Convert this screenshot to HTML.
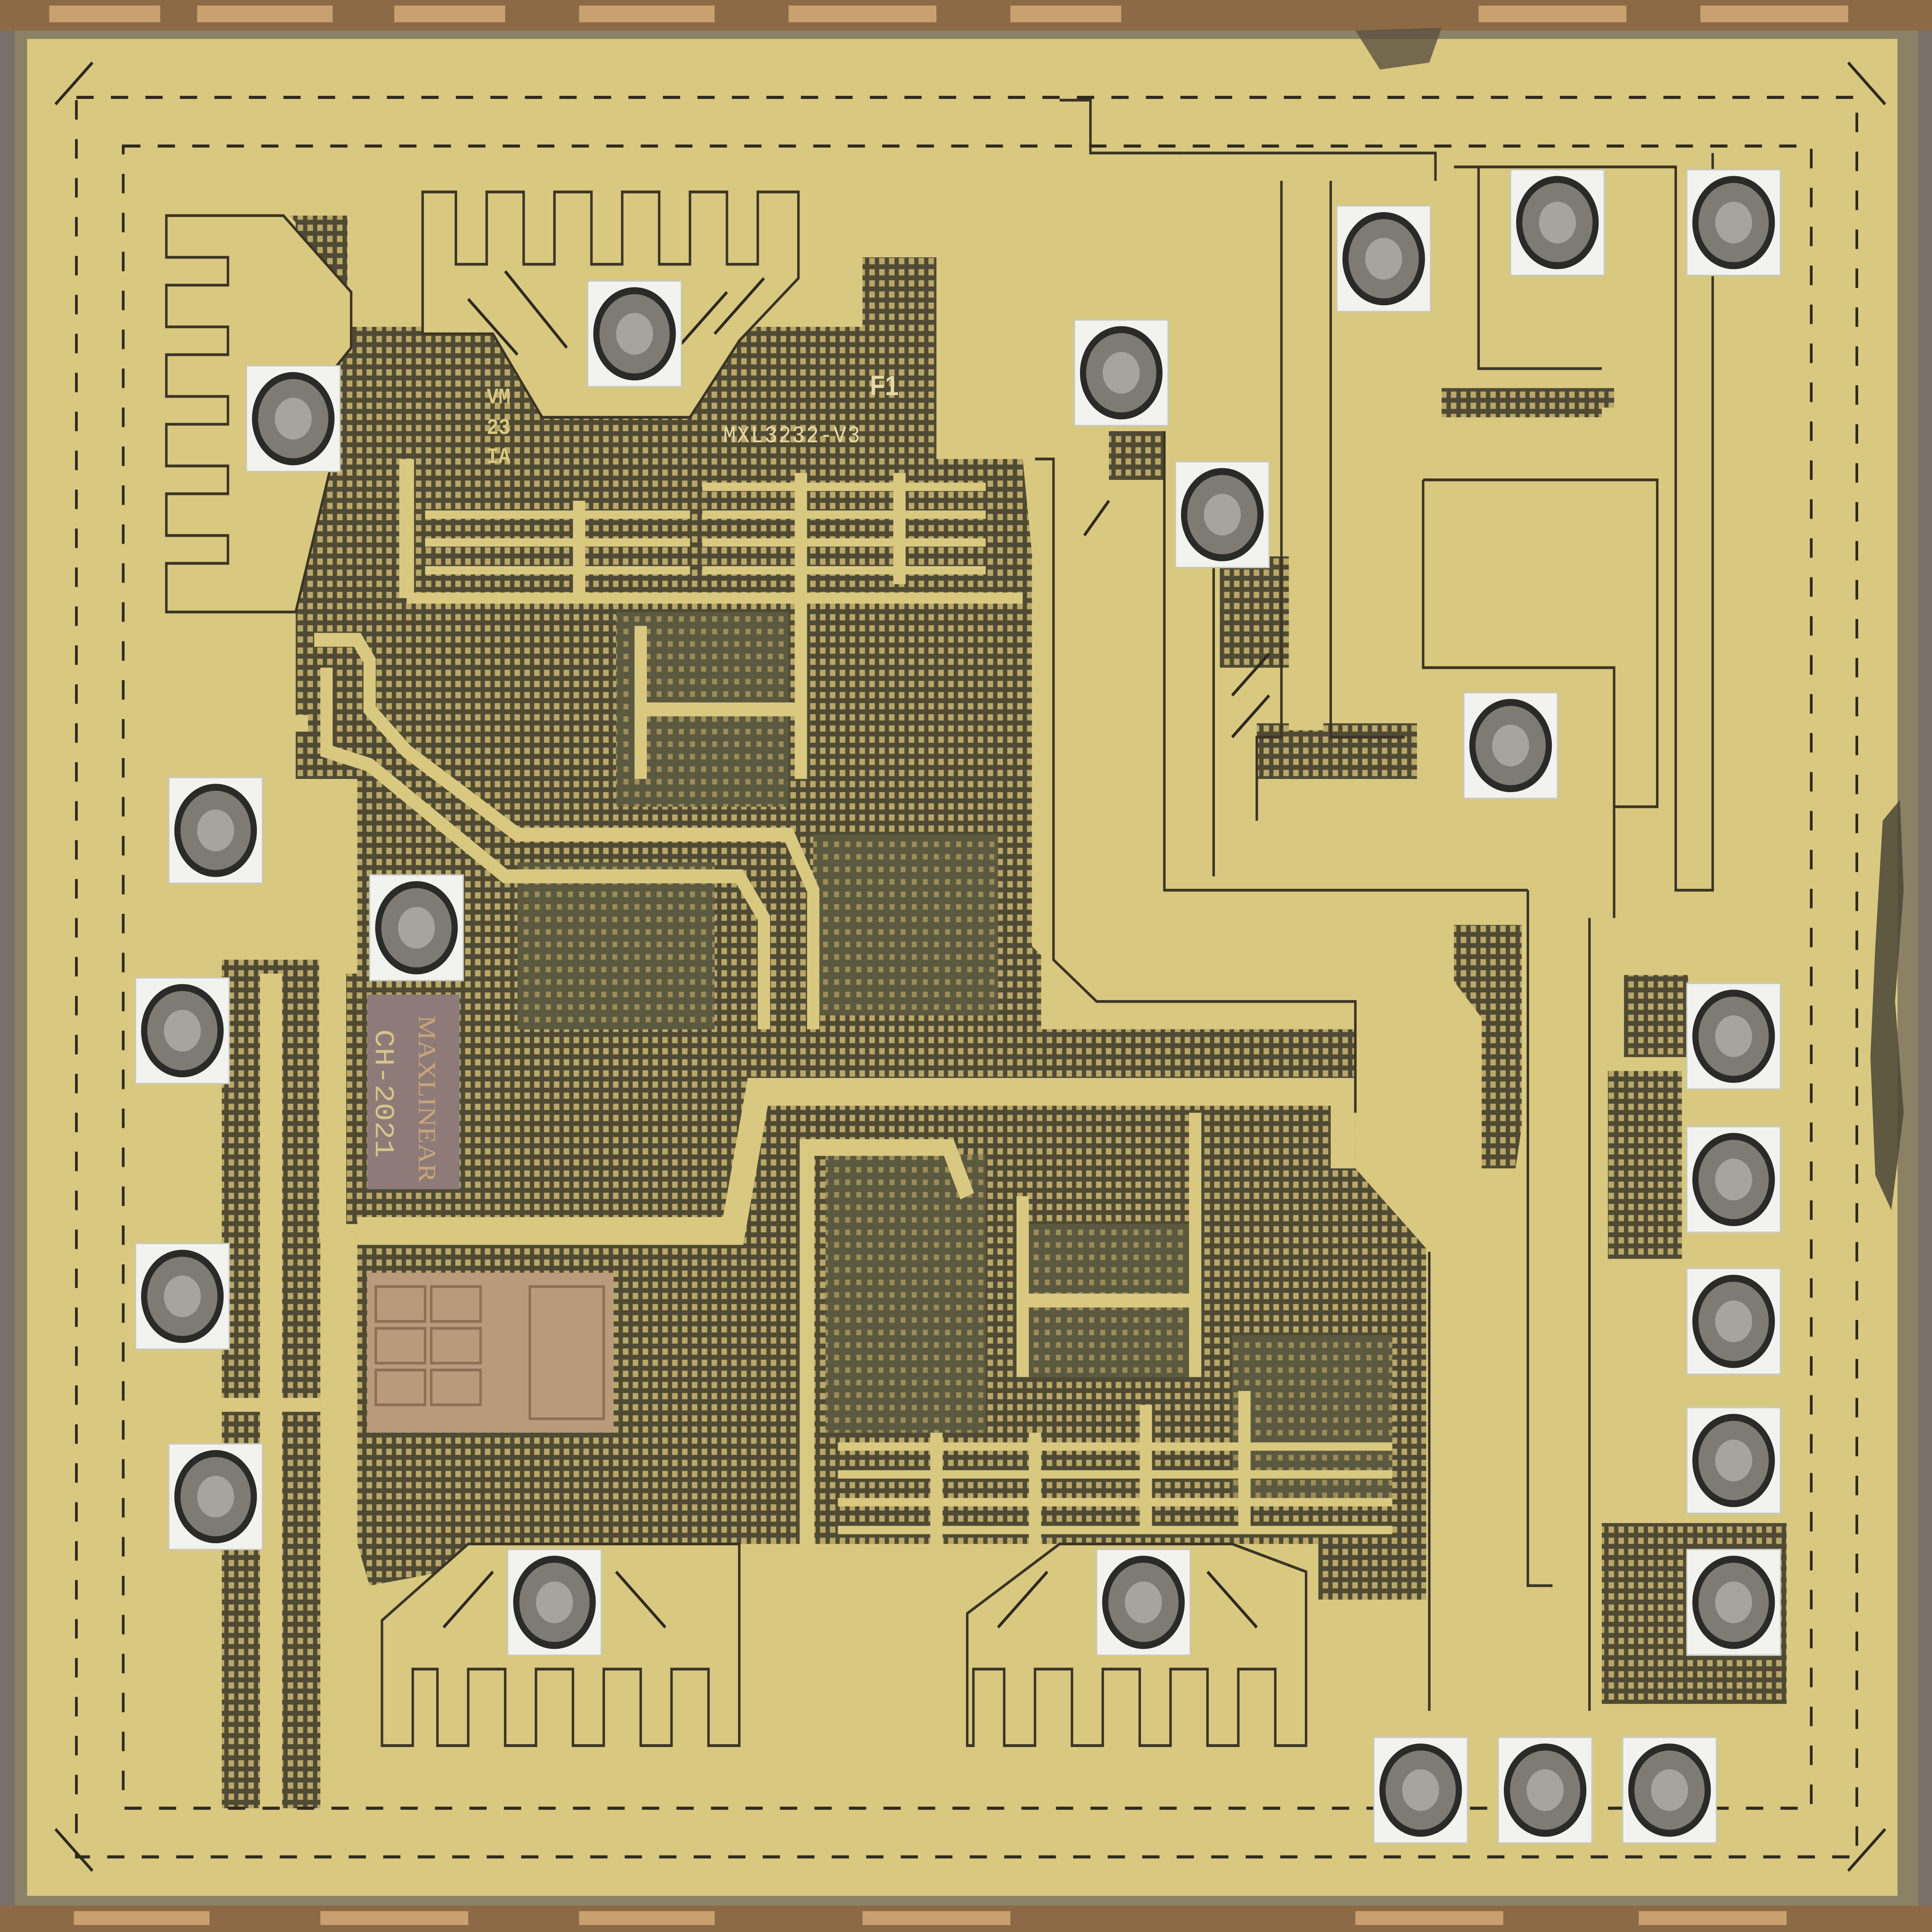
<!DOCTYPE html>
<html><head><meta charset="utf-8"><style>
html,body{margin:0;padding:0;background:#6e6660;width:100%;height:100%;overflow:hidden;}
svg{display:block;width:100vw;height:100vh;position:absolute;left:0;top:0}
</style></head><body>
<svg viewBox="0 0 1568 1389" preserveAspectRatio="none" xmlns="http://www.w3.org/2000/svg">
<defs>
<pattern id="grid" width="8" height="8" patternUnits="userSpaceOnUse">
<rect width="8" height="8" fill="#4e4a33"/>
<rect x="1.5" y="1.5" width="4.5" height="4.5" fill="#b9a768"/>
</pattern>
<pattern id="grid2" width="9" height="9" patternUnits="userSpaceOnUse">
<rect width="9" height="9" fill="#5b5a40"/>
<rect x="2" y="2" width="4" height="4" fill="#9c8c55"/>
</pattern>
</defs>
<rect width="1568" height="1389" fill="#7a706a"/>
<rect x="0" y="0" width="1568" height="22" fill="#8c6a45"/>
<rect x="0" y="1370" width="1568" height="19" fill="#8c6a45"/>
<g fill="#c9a070">
<rect x="40" y="4" width="90" height="12"/><rect x="160" y="4" width="110" height="12"/><rect x="320" y="4" width="90" height="12"/><rect x="470" y="4" width="110" height="12"/><rect x="640" y="4" width="120" height="12"/><rect x="820" y="4" width="90" height="12"/><rect x="1200" y="4" width="120" height="12"/><rect x="1380" y="4" width="120" height="12"/>
<rect x="60" y="1374" width="110" height="10"/><rect x="260" y="1374" width="120" height="10"/><rect x="470" y="1374" width="110" height="10"/><rect x="700" y="1374" width="120" height="10"/><rect x="1100" y="1374" width="120" height="10"/><rect x="1330" y="1374" width="120" height="10"/>
</g>
<rect x="12" y="22" width="1545" height="1348" fill="#8b8166"/>
<rect x="22" y="28" width="1518" height="1335" fill="#d9c880"/>
<g fill="url(#grid)">
<polygon points="235,155 282,155 282,235 700,235 700,185 760,185 760,330 830,330 840,420 880,470 880,545 845,560 845,740 1100,740 1100,840 1160,900 1160,1150 1070,1150 1070,1110 600,1110 480,1110 300,1140 290,1110 290,880 260,880 260,700 290,700 290,560 240,560 240,440 240,160"/>
<rect x="180" y="690" width="80" height="610"/>
<polygon points="1180,660 1240,640 1240,780 1230,840 1180,840"/>
<rect x="1305" y="770" width="60" height="135"/>
<rect x="1300" y="1095" width="150" height="130"/>
<rect x="1318" y="700" width="52" height="60"/>
<polygon points="1020,520 1150,520 1150,560 1020,560"/>
<polygon points="1170,270 1310,270 1310,300 1170,300"/>
<polygon points="900,310 950,310 950,345 900,345"/>
<polygon points="990,400 1060,400 1060,480 990,480"/>
</g>
<g fill="url(#grid2)">
<rect x="500" y="440" width="140" height="140"/>
<rect x="420" y="620" width="160" height="120"/>
<rect x="660" y="600" width="150" height="130"/>
<rect x="830" y="880" width="140" height="110"/>
<rect x="670" y="830" width="130" height="200"/>
<rect x="1000" y="960" width="130" height="120"/>
</g>
<rect x="298" y="915" width="200" height="115" fill="#b99a7a"/>
<g stroke="#8f6f55" stroke-width="2" fill="none">
<rect x="305" y="925" width="40" height="25"/><rect x="350" y="925" width="40" height="25"/><rect x="305" y="955" width="40" height="25"/><rect x="350" y="955" width="40" height="25"/><rect x="305" y="985" width="40" height="25"/><rect x="350" y="985" width="40" height="25"/><rect x="430" y="925" width="60" height="95"/>
</g>
<rect x="298" y="715" width="75" height="140" fill="#8e7b78"/>
<text x="340" y="730" font-family="Liberation Serif,serif" font-size="20" fill="#c7a47c" transform="rotate(90 340 730)">MAXLINEAR</text>
<text x="305" y="740" font-family="Liberation Mono,monospace" font-size="22" fill="#d8c48a" transform="rotate(90 305 740)">CH-2021</text>
<g fill="none" stroke="#d9c880" stroke-linejoin="miter">
<path d="M290,885 H595 L615,785 H1090 V840" stroke-width="20"/>
<path d="M655,1120 V825 H770 L785,860" stroke-width="12"/>
<path d="M255,460 H290 L300,475 V510 L330,540 L420,600 H640 L660,640 V740" stroke-width="10"/>
<path d="M265,480 V540 L300,550 L410,630 H600 L620,660 V740" stroke-width="10"/>
<path d="M330,330 V430" stroke-width="12"/>
<path d="M330,430 H830" stroke-width="8"/>
<path d="M520,450 V560 M515,510 H655 M650,430 V560" stroke-width="10"/>
<path d="M830,860 V990 M830,935 H975 M970,800 V990" stroke-width="10"/>
<path d="M860,60 V670 L900,705 H1150 L1180,740 V1230" stroke-width="45"/>
<path d="M960,110 V650 H1250 V1230" stroke-width="30"/>
<path d="M1020,580 H1300 V660" stroke-width="28"/>
<path d="M1060,130 V525" stroke-width="28"/>
<path d="M1340,110 V670" stroke-width="20"/>
<path d="M1440,200 V690 H1310" stroke-width="22"/>
<path d="M1170,120 V270 H1380" stroke-width="18"/>
<path d="M1300,300 H1390" stroke-width="14"/>
<path d="M220,700 V1300" stroke-width="18"/>
<path d="M270,570 V890" stroke-width="22"/>
<path d="M110,520 H250" stroke-width="12"/>
</g>
<g fill="none" stroke="#3c3424" stroke-width="2">
<path d="M860,72 H885 V110 H960"/><path d="M960,110 H1165 V130"/><path d="M1040,130 V530 H1020 V590"/><path d="M1080,130 V530 H1140"/>
<path d="M1155,345 H1345 V580 H1310"/><path d="M1155,345 V480 H1310 V660"/><path d="M1180,120 H1360 V640 H1390 V110"/>
<path d="M1200,120 V265 H1300"/><path d="M945,310 V640 H1240"/><path d="M985,400 V630"/>
<path d="M1240,640 V1140 H1260"/><path d="M1290,660 V1230"/><path d="M1160,900 V1230"/>
<path d="M840,330 H855 V690 L890,720 H1100 V800"/>
</g>
<g fill="#d9c880" stroke="#3c3424" stroke-width="2">
<path d="M135,155 H230 L285,210 V250 L240,300 L270,330 L240,440 H135 V405 H185 V385 H135 V355 H185 V335 H135 V305 H185 V285 H135 V255 H185 V235 H135 V205 H185 V185 H135 Z"/>
<path d="M343,138 H370 V190 H395 V138 H425 V190 H450 V138 H480 V190 H505 V138 H535 V190 H560 V138 H590 V190 H615 V138 H648 V200 L600,245 L560,300 H440 L400,240 H343 Z"/>
<path d="M310,1165 L380,1110 H600 V1255 H575 V1200 H545 V1255 H520 V1200 H490 V1255 H465 V1200 H435 V1255 H410 V1200 H380 V1255 H355 V1200 H335 V1255 H310 Z"/>
<path d="M785,1160 L860,1110 H1000 L1060,1130 V1255 H1035 V1200 H1005 V1255 H980 V1200 H950 V1255 H925 V1200 H895 V1255 H870 V1200 H840 V1255 H815 V1200 H790 V1255 H785 Z"/>
</g>
<g stroke="#d9c880" stroke-width="6">
<path d="M345,370 H560 M345,390 H560 M345,410 H560 M570,350 H800 M570,370 H800 M570,390 H800 M570,410 H800"/>
<path d="M680,1040 H1130 M680,1060 H1130 M680,1080 H1130 M680,1100 H1130"/>
</g>
<g stroke="#d9c880" stroke-width="10">
<path d="M470,360 V430 M650,340 V430 M730,340 V420"/>
<path d="M760,1030 V1110 M840,1030 V1110 M930,1010 V1100 M1010,1000 V1100"/>
<path d="M110,660 H260 M110,1010 H260 M110,830 H180"/>
</g>
<g stroke="#2f2a1d" stroke-width="2.2" fill="none" stroke-dasharray="14,14">
<rect x="62" y="70" width="1445" height="1265"/>
<rect x="100" y="105" width="1370" height="1195"/>
</g>
<g stroke="#2f2a1d" stroke-width="2.2">
<path d="M45,75 L75,45 M45,1315 L75,1345 M1500,45 L1530,75 M1500,1345 L1530,1315"/>
<path d="M380,215 L420,255 M410,195 L460,250 M590,210 L550,250 M620,200 L580,240 M360,1170 L400,1130 M500,1130 L540,1170 M810,1170 L850,1130 M980,1130 L1020,1170"/>
<path d="M900,360 L880,385 M1000,500 L1030,470 M1000,530 L1030,500"/>
</g>
<text x="587" y="318" font-family="Liberation Mono,monospace" font-size="17" fill="#e6d9a6" letter-spacing="1">MXL3232-V3</text>
<text x="706" y="284" font-family="Liberation Sans,sans-serif" font-weight="bold" font-size="20" fill="#e6d9a6">F1</text>
<g font-family="Liberation Mono,monospace" font-size="16" fill="#d9c880" font-weight="bold">
<text x="395" y="290">VM</text><text x="395" y="312">23</text><text x="395" y="333">IA</text>
</g>
<g fill="#f2f2ee" stroke="#c9c9c0" stroke-width="1">
<rect x="200" y="263" width="76" height="76"/><rect x="477" y="202" width="76" height="76"/><rect x="872" y="230" width="76" height="76"/><rect x="954" y="332" width="76" height="76"/><rect x="1085" y="148" width="76" height="76"/><rect x="1226" y="122" width="76" height="76"/><rect x="1369" y="122" width="76" height="76"/><rect x="1188" y="498" width="76" height="76"/><rect x="137" y="559" width="76" height="76"/><rect x="300" y="629" width="76" height="76"/><rect x="110" y="703" width="76" height="76"/><rect x="110" y="894" width="76" height="76"/><rect x="137" y="1038" width="76" height="76"/><rect x="1369" y="707" width="76" height="76"/><rect x="1369" y="810" width="76" height="76"/><rect x="1369" y="912" width="76" height="76"/><rect x="1369" y="1012" width="76" height="76"/><rect x="1369" y="1114" width="76" height="76"/><rect x="412" y="1114" width="76" height="76"/><rect x="890" y="1114" width="76" height="76"/><rect x="1115" y="1249" width="76" height="76"/><rect x="1216" y="1249" width="76" height="76"/><rect x="1317" y="1249" width="76" height="76"/>
</g>
<g fill="#7d7b73" stroke="#2a2a28" stroke-width="5">
<circle cx="238" cy="301" r="31"/><circle cx="515" cy="240" r="31"/><circle cx="910" cy="268" r="31"/><circle cx="992" cy="370" r="31"/><circle cx="1123" cy="186" r="31"/><circle cx="1264" cy="160" r="31"/><circle cx="1407" cy="160" r="31"/><circle cx="1226" cy="536" r="31"/><circle cx="175" cy="597" r="31"/><circle cx="338" cy="667" r="31"/><circle cx="148" cy="741" r="31"/><circle cx="148" cy="932" r="31"/><circle cx="175" cy="1076" r="31"/><circle cx="1407" cy="745" r="31"/><circle cx="1407" cy="848" r="31"/><circle cx="1407" cy="950" r="31"/><circle cx="1407" cy="1050" r="31"/><circle cx="1407" cy="1152" r="31"/><circle cx="450" cy="1152" r="31"/><circle cx="928" cy="1152" r="31"/><circle cx="1153" cy="1287" r="31"/><circle cx="1254" cy="1287" r="31"/><circle cx="1355" cy="1287" r="31"/>
</g>
<g fill="#b8b6ac" opacity="0.7">
<circle cx="238" cy="301" r="15"/><circle cx="515" cy="240" r="15"/><circle cx="910" cy="268" r="15"/><circle cx="992" cy="370" r="15"/><circle cx="1123" cy="186" r="15"/><circle cx="1264" cy="160" r="15"/><circle cx="1407" cy="160" r="15"/><circle cx="1226" cy="536" r="15"/><circle cx="175" cy="597" r="15"/><circle cx="338" cy="667" r="15"/><circle cx="148" cy="741" r="15"/><circle cx="148" cy="932" r="15"/><circle cx="175" cy="1076" r="15"/><circle cx="1407" cy="745" r="15"/><circle cx="1407" cy="848" r="15"/><circle cx="1407" cy="950" r="15"/><circle cx="1407" cy="1050" r="15"/><circle cx="1407" cy="1152" r="15"/><circle cx="450" cy="1152" r="15"/><circle cx="928" cy="1152" r="15"/><circle cx="1153" cy="1287" r="15"/><circle cx="1254" cy="1287" r="15"/><circle cx="1355" cy="1287" r="15"/>
</g>
<path d="M1528,590 L1542,575 L1545,640 L1538,720 L1545,800 L1535,870 L1522,845 L1518,760 L1522,680 Z" fill="#4a4536" opacity="0.85"/>
<path d="M1100,22 L1170,20 L1160,45 L1120,50 Z" fill="#5a5040" opacity="0.8"/>
</svg>
</body></html>
